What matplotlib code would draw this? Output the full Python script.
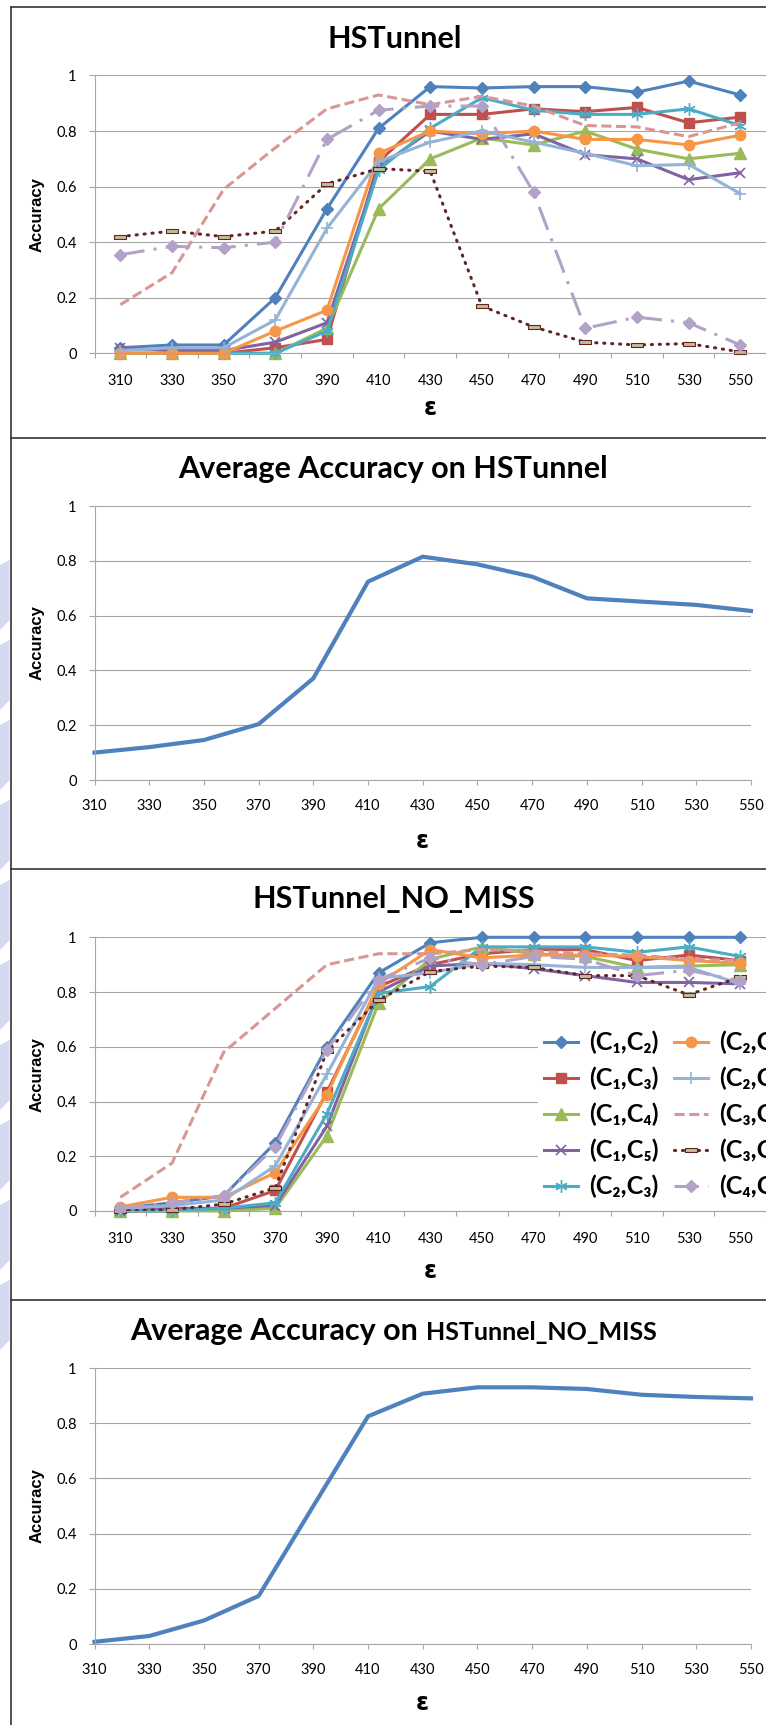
import matplotlib.pyplot as plt
import numpy as np
from matplotlib.lines import Line2D
from matplotlib.patches import Polygon

# epsilon values on the x axis
eps = [310, 330, 350, 370, 390, 410, 430, 450, 470, 490, 510, 530, 550]
pairs = ["(C₁,C₂)", "(C₁,C₃)", "(C₁,C₄)", "(C₁,C₅)", "(C₂,C₃)",
         "(C₂,C₄)", "(C₂,C₅)", "(C₃,C₄)", "(C₃,C₅)", "(C₄,C₅)"]

# HSTunnel accuracy per pair
hs_c1c2 = [0.02, 0.03, 0.03, 0.20, 0.52, 0.81, 0.96, 0.955, 0.96, 0.96, 0.94, 0.98, 0.93]
hs_c1c3 = [0.0, 0.0, 0.0, 0.02, 0.05, 0.69, 0.86, 0.86, 0.88, 0.87, 0.885, 0.83, 0.85]
hs_c1c4 = [0.0, 0.0, 0.0, 0.0, 0.09, 0.52, 0.70, 0.775, 0.75, 0.80, 0.735, 0.70, 0.72]
hs_c1c5 = [0.02, 0.01, 0.01, 0.04, 0.11, 0.67, 0.80, 0.77, 0.79, 0.715, 0.70, 0.625, 0.65]
hs_c2c3 = [0.0, 0.0, 0.0, 0.0, 0.08, 0.66, 0.81, 0.92, 0.875, 0.86, 0.86, 0.88, 0.82]
hs_c2c4 = [0.0, 0.0, 0.0, 0.08, 0.155, 0.72, 0.80, 0.79, 0.80, 0.77, 0.77, 0.75, 0.785]
hs_c2c5 = [0.01, 0.02, 0.02, 0.12, 0.45, 0.69, 0.76, 0.80, 0.76, 0.72, 0.675, 0.68, 0.575]
hs_c3c4 = [0.175, 0.29, 0.59, 0.74, 0.88, 0.93, 0.895, 0.925, 0.89, 0.82, 0.815, 0.78, 0.83]
hs_c3c5 = [0.42, 0.44, 0.42, 0.44, 0.61, 0.665, 0.655, 0.17, 0.095, 0.04, 0.03, 0.035, 0.005]
hs_c4c5 = [0.355, 0.385, 0.38, 0.40, 0.77, 0.875, 0.89, 0.89, 0.58, 0.09, 0.13, 0.11, 0.03]

# average accuracy on HSTunnel
hs_avg = [0.10, 0.12, 0.146, 0.204, 0.371, 0.724, 0.815, 0.787, 0.742, 0.663, 0.651, 0.639, 0.617]

# HSTunnel_NO_MISS accuracy per pair
nm_c1c2 = [0.01, 0.03, 0.055, 0.25, 0.60, 0.87, 0.98, 1.0, 1.0, 1.0, 1.0, 1.0, 1.0]
nm_c1c3 = [0.0, 0.0, 0.01, 0.075, 0.435, 0.82, 0.90, 0.94, 0.955, 0.955, 0.915, 0.935, 0.915]
nm_c1c4 = [0.0, 0.0, 0.0, 0.01, 0.275, 0.76, 0.92, 0.965, 0.94, 0.93, 0.89, 0.895, 0.90]
nm_c1c5 = [0.0, 0.01, 0.01, 0.02, 0.31, 0.80, 0.895, 0.905, 0.885, 0.86, 0.835, 0.835, 0.83]
nm_c2c3 = [0.0, 0.0, 0.01, 0.03, 0.355, 0.795, 0.82, 0.965, 0.965, 0.965, 0.945, 0.965, 0.93]
nm_c2c4 = [0.015, 0.05, 0.05, 0.14, 0.425, 0.83, 0.955, 0.925, 0.935, 0.935, 0.93, 0.915, 0.905]
nm_c2c5 = [0.01, 0.02, 0.04, 0.165, 0.50, 0.85, 0.87, 0.905, 0.90, 0.89, 0.89, 0.89, 0.83]
nm_c3c4 = [0.05, 0.175, 0.58, 0.74, 0.90, 0.94, 0.94, 0.955, 0.95, 0.94, 0.935, 0.92, 0.915]
nm_c3c5 = [0.0, 0.005, 0.025, 0.085, 0.585, 0.77, 0.875, 0.895, 0.89, 0.86, 0.86, 0.79, 0.855]
nm_c4c5 = [0.01, 0.03, 0.055, 0.235, 0.59, 0.845, 0.925, 0.90, 0.93, 0.92, 0.86, 0.88, 0.84]

# average accuracy on HSTunnel_NO_MISS
nm_avg = [0.008, 0.029, 0.085, 0.174, 0.50, 0.825, 0.907, 0.93, 0.93, 0.924, 0.903, 0.895, 0.89]

hs_series = [hs_c1c2, hs_c1c3, hs_c1c4, hs_c1c5, hs_c2c3, hs_c2c4, hs_c2c5, hs_c3c4, hs_c3c5, hs_c4c5]
nm_series = [nm_c1c2, nm_c1c3, nm_c1c4, nm_c1c5, nm_c2c3, nm_c2c4, nm_c2c5, nm_c3c4, nm_c3c5, nm_c4c5]

W, H = 766, 1725
FONT = ['Lato', 'DejaVu Sans']
plt.rcParams['font.family'] = FONT

rect_marker = [(-1, -0.33), (1, -0.33), (1, 0.33), (-1, 0.33), (-1, -0.33)]
styles = [
    dict(color='#4F81BD', marker='D', ms=6.5, ls='-'),
    dict(color='#C0504D', marker='s', ms=7, ls='-'),
    dict(color='#9BBB59', marker='^', ms=8, ls='-'),
    dict(color='#8064A2', marker='x', ms=7, mew=1.2, ls='-'),
    dict(color='#4BACC6', marker=(6, 2, 0), ms=9, mew=1.0, ls='-'),
    dict(color='#F79646', marker='o', ms=7.5, ls='-'),
    dict(color='#95B3D7', marker='+', ms=9, mew=1.2, ls='-'),
    dict(color='#D99694', marker='None', ls=(0, (3.3, 1.5))),
    dict(color='#632523', marker=rect_marker, ms=8.6, mfc='#C4BD97', mec='#632523', mew=0.8,
         ls=(0, (0.4, 2.2)), dash_capstyle='round'),
    dict(color='#B3A2C7', marker='D', ms=6, ls=(0, (8, 3, 1, 3))),
]


def box(left, right, top, bottom):
    return [left / W, 1 - bottom / H, (right - left) / W, (bottom - top) / H]


def style_axes(ax, between):
    ax.set_ylim(0, 1)
    ax.set_yticks([0, 0.2, 0.4, 0.6, 0.8, 1.0])
    ax.set_yticklabels(['0', '0.2', '0.4', '0.6', '0.8', '1'])
    ax.grid(axis='y', color='#a6a6a6', lw=0.8)
    ax.set_axisbelow(True)
    for s in ['top', 'right']:
        ax.spines[s].set_visible(False)
    for s in ['left', 'bottom']:
        ax.spines[s].set_color('#a6a6a6')
        ax.spines[s].set_linewidth(0.8)
    ax.tick_params(axis='y', length=4.3, width=0.8, color='#a6a6a6', pad=8.6, labelsize=10.5)
    ax.set_xticks(range(len(eps)))
    ax.set_xticklabels([str(e) for e in eps])
    if between:
        ax.set_xlim(-0.5, len(eps) - 0.5)
        ax.set_xticks(np.arange(-0.5, len(eps), 1), minor=True)
        ax.tick_params(axis='x', which='major', length=0, pad=15, labelsize=10.5)
        ax.tick_params(axis='x', which='minor', length=3.6, width=0.8, color='#a6a6a6')
    else:
        ax.set_xlim(0, len(eps) - 1)
        ax.tick_params(axis='x', length=3.6, width=0.8, color='#a6a6a6', pad=10, labelsize=10.5)


def axis_texts(ax, ytop, ybot, xl, xr, eps_y):
    fig.text(37 / W, 1 - (ytop + ybot) / 2 / H, 'Accuracy', rotation=90, ha='center', va='center',
             fontsize=12, fontweight='bold', family=['Liberation Sans Narrow', 'Liberation Sans'])
    fig.text((xl + xr) / 2 / W, 1 - eps_y / H, 'ε', ha='center', va='center',
             fontsize=17, fontweight='bold', family=['DejaVu Sans'])


fig = plt.figure(figsize=(W / 100, H / 100), dpi=100)
x = np.arange(len(eps))

# faint watermark on the left edge
for y0 in range(560, 1320, 80):
    fig.add_artist(Polygon([(0, 1 - (y0 + 5) / H), (9.5 / W, 1 - y0 / H),
                            (9.5 / W, 1 - (y0 + 60) / H), (0, 1 - (y0 + 70) / H)],
                           closed=True, color='#d3d9ef', lw=0, zorder=-1))

# panel 1: HSTunnel
ax1 = fig.add_axes(box(94.5, 766, 75.5, 353.3))
style_axes(ax1, True)
for vals, st in zip(hs_series, styles):
    ax1.plot(x, vals, lw=2.2, clip_on=False, **st)
fig.text(395 / W, 1 - 47.7 / H, 'HSTunnel', ha='center', va='baseline', fontsize=22, fontweight='bold')
axis_texts(ax1, 75.5, 353.3, 94.5, 766, 408)

# panel 2: average on HSTunnel
ax2 = fig.add_axes(box(94.5, 751, 506, 780))
style_axes(ax2, False)
ax2.plot(x, hs_avg, color='#4F81BD', lw=3, clip_on=False)
fig.text(393 / W, 1 - 478.3 / H, 'Average Accuracy on HSTunnel', ha='center', va='baseline',
         fontsize=22, fontweight='bold')
axis_texts(ax2, 506, 780, 94.5, 751, 841)

# panel 3: HSTunnel_NO_MISS
ax3 = fig.add_axes(box(94.5, 766, 937.3, 1211))
style_axes(ax3, True)
for vals, st, name in zip(nm_series, styles, pairs):
    ax3.plot(x, vals, lw=2.2, clip_on=False, label=name, **st)
fig.text(394 / W, 1 - 908 / H, 'HSTunnel_NO_MISS', ha='center', va='baseline', fontsize=22, fontweight='bold')
axis_texts(ax3, 937.3, 1211, 94.5, 766, 1271)
leg = ax3.legend(ncol=2, loc='upper left', bbox_to_anchor=(538 / W, 1 - 1024.5 / H),
                 bbox_transform=fig.transFigure, frameon=True, fancybox=False, edgecolor='none',
                 facecolor='white', framealpha=1, handlelength=1.36, handletextpad=0.44,
                 columnspacing=0.6, labelspacing=0.5, borderpad=0.25, borderaxespad=0,
                 numpoints=1, prop={'weight': 'bold', 'size': 18, 'family': FONT})

# panel 4: average on HSTunnel_NO_MISS
ax4 = fig.add_axes(box(94.5, 751, 1368, 1644))
style_axes(ax4, False)
ax4.plot(x, nm_avg, color='#4F81BD', lw=3, clip_on=False)
axis_texts(ax4, 1368, 1644, 94.5, 751, 1703)
t1 = fig.text(0, 1 - 1340 / H, 'Average Accuracy on', ha='left', va='baseline', fontsize=22, fontweight='bold')
t2 = fig.text(0, 1 - 1340 / H, 'HSTunnel_NO_MISS', ha='left', va='baseline', fontsize=18, fontweight='bold')
fig.canvas.draw()
r = fig.canvas.get_renderer()
w1 = t1.get_window_extent(r).width
w2 = t2.get_window_extent(r).width
gap = 8
start = 393 - (w1 + gap + w2) / 2
t1.set_x(start / W)
t2.set_x((start + w1 + gap) / W)

# chart borders
border = '#333333'
for yb in [7, 438, 869, 1300]:
    fig.add_artist(Line2D([10.5 / W, 1], [1 - yb / H, 1 - yb / H], color=border, lw=1.2))
fig.add_artist(Line2D([10.5 / W, 10.5 / W], [0, 1 - 7 / H], color=border, lw=1.2))

fig.savefig('out.png', dpi=100)
